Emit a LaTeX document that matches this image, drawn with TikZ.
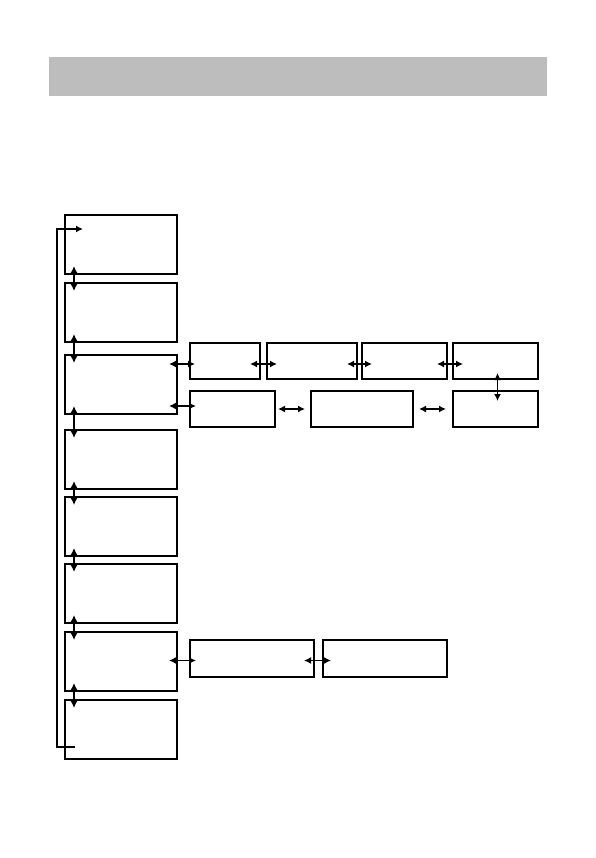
\documentclass[tikz,border=0pt]{standalone}
\usepackage{tikz}
\usetikzlibrary{positioning,arrows.meta,calc}
\definecolor{HeaderGray}{RGB}{189,189,189}

\begin{document}
\begin{tikzpicture}[x=1pt, y=-1pt,
    menu/.style={draw, line width=1.1pt, inner sep=0pt, outer sep=0pt, minimum width=112pt, minimum height=59pt},
    sub/.style={draw, line width=1.5pt, inner sep=0pt, outer sep=0pt, minimum height=36pt},
    link/.style={{Latex[length=7pt,width=7pt]}-{Latex[length=7pt,width=7pt]}, line width=1.7pt}]
  \useasboundingbox (0,0) rectangle (595,858);
  \node[fill=HeaderGray, inner sep=0pt, minimum width=498pt, minimum height=39pt, anchor=north west] (header) at (49,57) {};

  \node[menu, anchor=north west] (m1) at (65,215) {};
  \node[menu, below=9pt of m1] (m2) {};
  \node[menu, below=13pt of m2] (m3) {};
  \node[menu, below=16pt of m3] (m4) {};
  \node[menu, below=8pt of m4] (m5) {};
  \node[menu, below=8pt of m5] (m6) {};
  \node[menu, below=9pt of m6] (m7) {};
  \node[menu, below=9pt of m7] (m8) {};

  \node[sub, minimum width=70pt, anchor=north west] (s1) at (190,343) {};
  \node[sub, minimum width=90pt, right=7pt of s1] (s2) {};
  \node[sub, minimum width=85pt, right=5pt of s2] (s3) {};
  \node[sub, minimum width=85pt, right=6pt of s3] (s4) {};
  \node[sub, minimum width=85pt, anchor=north west] (t1) at (190,391) {};
  \node[sub, minimum width=102pt, right=36pt of t1] (t2) {};
  \node[sub, minimum width=85pt, right=40pt of t2] (t3) {};
  \node[sub, minimum width=124pt, minimum height=37pt, anchor=north west] (u1) at (190,640) {};
  \node[sub, minimum width=124pt, minimum height=37pt, right=9pt of u1] (u2) {};

  \foreach \a/\b in {m1/m2, m2/m3, m3/m4, m4/m5, m5/m6, m6/m7, m7/m8}
    \draw[link, shorten <=-8pt, shorten >=-8pt] ([xshift=9pt]\a.south west) -- ([xshift=9pt]\b.north west);

  \draw[link, shorten <=-8pt, shorten >=-5pt] ([yshift=-3pt]s1.west -| m3.east) -- ([yshift=-3pt]s1.west);
  \foreach \a/\b in {s1/s2, s2/s3, s3/s4}
    \draw[link, shorten <=-10pt, shorten >=-10pt] ([yshift=-3pt]\a.east) -- ([yshift=-3pt]\b.west);
  \draw[link, shorten <=-6pt, shorten >=-10pt] ([xshift=2pt]s4.south) -- ([xshift=2pt]t3.north);
  \draw[link, shorten <=-8pt, shorten >=-6pt] ([yshift=3pt]t1.west -| m3.east) -- ([yshift=3pt]t1.west);
  \draw[link, shorten <=3pt, shorten >=6pt] (t1.east) -- (t2.west);
  \draw[link, shorten <=6pt, shorten >=7pt] (t2.east) -- (t3.west);
  \draw[link, shorten <=-8pt, shorten >=-6pt] ([yshift=-2pt]u1.west -| m7.east) -- ([yshift=-2pt]u1.west);
  \draw[link, shorten <=-10pt, shorten >=-8pt] ([yshift=-2pt]u1.east) -- ([yshift=-2pt]u2.west);

  \coordinate (loopstart) at ([shift={(10pt,12pt)}]m8.south west);
  \coordinate (loopend) at ([shift={(18pt,-14pt)}]m1.north west);
  \draw[line width=1.7pt, -{Latex[length=7pt,width=7pt]}] (loopstart) -- ++(-18,0) |- (loopend);
\end{tikzpicture}
\end{document}
